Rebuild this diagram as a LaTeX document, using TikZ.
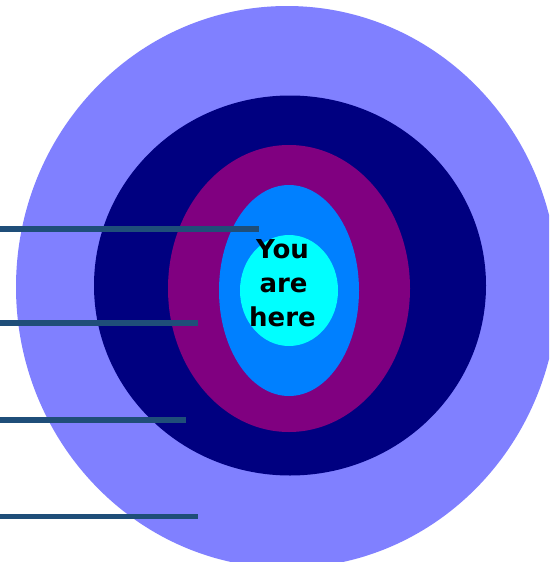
\documentclass[tikz,border=0pt]{standalone}
\usepackage{fontspec}
\newfontfamily\labelfont{DejaVu Sans}
\definecolor{ringA}{HTML}{8080FF}
\definecolor{ringB}{HTML}{000080}
\definecolor{ringC}{HTML}{800080}
\definecolor{ringD}{HTML}{0080FF}
\definecolor{ringE}{HTML}{00FFFF}
\definecolor{leader}{RGB}{31,78,121}
\tikzset{
  leaderline/.style={draw=leader, line width=5.5pt, line cap=butt},
  heretext/.style={font=\labelfont\bfseries\fontsize{26pt}{34pt}\selectfont, text=black, inner sep=0pt, anchor=base}
}
\begin{document}
\begin{tikzpicture}[x=1pt,y=-1pt]
\useasboundingbox (0,0) rectangle (549,562);
\clip (0,0) rectangle (549,562);
\fill[white] (0,0) rectangle (549,562);
% rings
\coordinate (cA) at (287,287);
\coordinate (cB) at (290,285.5);
\coordinate (cC) at (289,288.5);
\coordinate (cD) at (289,290.5);
\coordinate (cE) at (289,290.5);
\fill[ringA] (cA) ellipse [x radius=271, y radius=281];
\fill[ringB] (cB) ellipse [x radius=196, y radius=190];
\fill[ringC] (cC) ellipse [x radius=121, y radius=143.5];
\fill[ringD] (cD) ellipse [x radius=70, y radius=105.5];
\fill[ringE] (cE) ellipse [x radius=49, y radius=55.5];
% text
\node[heretext] (you) at (282.5,258) {You};
\node[heretext] (are) at (283.5,292) {are};
\node[heretext] (here) at (282.5,326) {here};
% leader lines
\coordinate (s1) at (0,229);   \coordinate (e1) at (259,229);
\coordinate (s2) at (0,323);   \coordinate (e2) at (198,323);
\coordinate (s3) at (0,420);   \coordinate (e3) at (186,420);
\coordinate (s4) at (0,516.5); \coordinate (e4) at (198,516.5);
\draw[leaderline] (s1) -- (e1);
\draw[leaderline] (s2) -- (e2);
\draw[leaderline] (s3) -- (e3);
\draw[leaderline] (s4) -- (e4);
\end{tikzpicture}
\end{document}
